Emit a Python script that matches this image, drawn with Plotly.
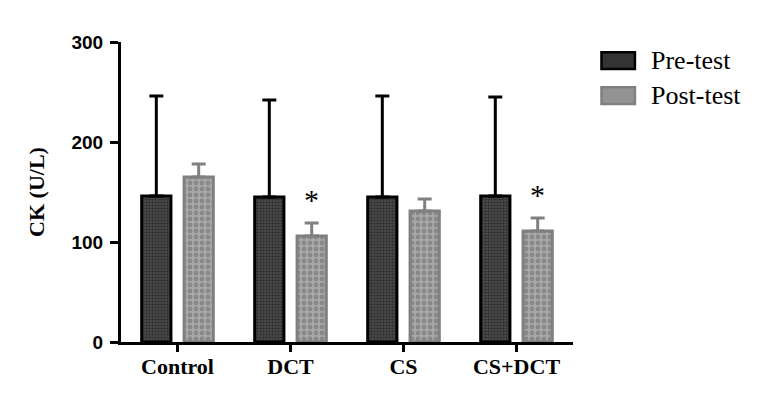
import plotly.graph_objects as go

categories = ["Control", "DCT", "CS", "CS+DCT"]
pre_mean = [146, 145, 145, 146]
pre_sd = [100, 97, 101, 99]
post_mean = [165, 106, 131, 111]
post_sd = [13, 13, 12, 13]
significant = [False, True, False, True]
yticks = [0, 100, 200, 300]

fig = go.Figure()
fig.add_trace(go.Bar(
    x=categories, y=pre_mean, name="Pre-test", showlegend=False,
    marker=dict(color="#444444", line=dict(color="black", width=3),
                pattern=dict(shape=".", fgcolor="#111111", bgcolor="#4e4e4e",
                             size=3, solidity=0.5)),
    error_y=dict(type="data", array=pre_sd, arrayminus=[0]*4, symmetric=False,
                 color="black", thickness=3, width=7),
))
fig.add_trace(go.Bar(
    x=categories, y=post_mean, name="Post-test", showlegend=False,
    marker=dict(color="#8a8a8a", line=dict(color="#808080", width=3),
                pattern=dict(shape=".", fgcolor="#6a6a6a", bgcolor="#a8a8a8",
                             size=6, solidity=0.5)),
    error_y=dict(type="data", array=post_sd, arrayminus=[0]*4, symmetric=False,
                 color="#808080", thickness=3, width=7),
))

for i, c in enumerate(categories):
    if significant[i]:
        fig.add_annotation(x=c, y=post_mean[i] + post_sd[i], xref="x", yref="y",
                           text="*", showarrow=False, xshift=21, yshift=5,
                           yanchor="bottom",
                           font=dict(family="Liberation Serif", size=30, color="black"))

# custom legend
legend_items = [("Pre-test", "#333333", "black"), ("Post-test", "#939393", "#808080")]
for k, (name, fill, line) in enumerate(legend_items):
    y0 = 0.962 - k * 0.117
    fig.add_shape(type="rect", xref="paper", yref="paper",
                  x0=1.063, x1=1.137, y0=y0 - 0.052, y1=y0 + 0.004,
                  fillcolor=fill, line=dict(color=line, width=2.5), layer="above")
    fig.add_annotation(xref="paper", yref="paper", x=1.168, y=y0 - 0.024,
                       text=name, showarrow=False, xanchor="left", yanchor="middle",
                       font=dict(family="Liberation Serif", size=26, color="black"))

fig.update_layout(
    width=767, height=402,
    margin=dict(l=121, r=194, t=42, b=60),
    paper_bgcolor="white", plot_bgcolor="white",
    barmode="group", bargap=0.25, bargroupgap=0.31,
    showlegend=False,
    xaxis=dict(showline=True, linecolor="black", linewidth=3, automargin=False,
               ticks="outside", ticklen=7, tickwidth=3, tickcolor="black",
               range=[-0.5, 3.5], ticklabelstandoff=-4,
               tickfont=dict(family="Liberation Serif", size=22, color="black", weight="bold")),
    yaxis=dict(showline=True, linecolor="black", linewidth=3, automargin=False,
               range=[0, 300], tickvals=yticks, showgrid=False, zeroline=False,
               ticks="outside", ticklen=8, tickwidth=3, tickcolor="black",
               ticklabelstandoff=3,
               tickfont=dict(family="Liberation Sans", size=19, color="black", weight="bold"),
               title=dict(text="CK (U/L)", standoff=21,
                          font=dict(family="Liberation Serif", size=22, color="black", weight="bold"))),
)

fig.write_html("out.html", config={"displayModeBar": False},
               post_script="document.body.style.margin='0';")
